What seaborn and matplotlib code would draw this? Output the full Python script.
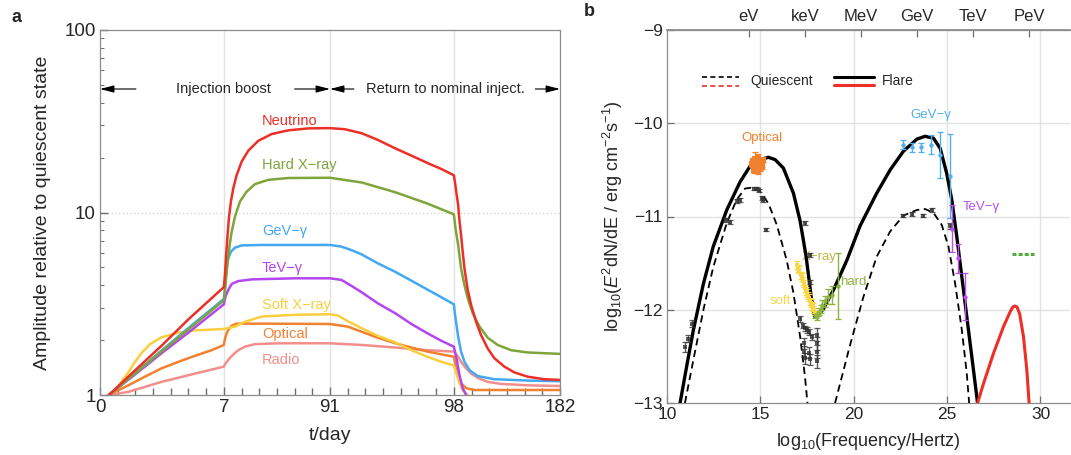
import numpy as np
import pandas as pd
import matplotlib
matplotlib.use("Agg")
import matplotlib.pyplot as plt
import seaborn as sns

sns.set_theme(style="ticks")
plt.rcParams['font.family'] = ['Liberation Sans', 'DejaVu Sans']
plt.rcParams['mathtext.fontset'] = 'custom'
plt.rcParams['mathtext.rm'] = 'Liberation Sans'
plt.rcParams['mathtext.it'] = 'Liberation Sans:italic'
plt.rcParams['mathtext.default'] = 'regular'

# ---------------- panel a: light curves (amplitude vs time) ----------------
neutrino_t = [0.5, 2, 3.5, 5, 7, 7.87, 8.66, 9.72, 11.0, 12.6, 14.5, 17.1, 21.1, 26.3, 34.2, 44.8, 58.0,
              73.8, 91, 91.84, 92.78, 93.7, 94.67, 95.6, 96.55, 97.3, 98,
              98.8, 100.1, 101.4, 102.4, 103.7, 105.0, 106.4, 109.0, 111.7, 115.6, 119.5, 124.8,
              130.1, 138, 145.9, 156.4, 169.6, 182]
neutrino_a = [1.0, 1.37, 1.87, 2.6, 3.9, 4.55, 5.61, 7.2, 9.3, 11.5, 13.6, 16.0, 19.0, 21.8, 24.7, 26.9, 28.2,
              28.9, 29.0, 28.6, 27.2, 25.0, 22.5, 20.5, 18.6, 17.3, 16.0,
              14.8, 12.7, 11.0, 9.1, 7.53, 6.1, 4.94, 3.76, 3.11, 2.52, 2.13, 1.80,
              1.59, 1.43, 1.33, 1.26, 1.22, 1.21]

hardx_t = [0.5, 2, 3.5, 5, 7, 7.87, 8.9, 9.98, 11.6, 13.2, 15.8, 19.8, 25.0, 31.6, 42.1, 58.0, 91,
           92.8, 94.7, 96.5, 98, 99.3, 101.4, 103.7, 106.4, 109.0, 113.0, 118.3, 124.8, 132.7,
           143.3, 156.4, 182]
hardx_a = [1.0, 1.32, 1.74, 2.29, 3.3, 3.68, 4.45, 5.38, 6.64, 7.85, 9.5, 11.5, 13.0, 14.3, 15.1, 15.45, 15.5,
           14.6, 12.9, 11.2, 9.77, 8.2, 6.64, 4.94, 4.0, 3.39, 2.80, 2.37, 2.06, 1.88,
           1.76, 1.71, 1.68]

gev_t = [0.5, 2, 3.5, 5, 7, 7.87, 8.9, 10.5, 12.6, 15.8, 21.1, 36.9, 91, 91.65, 92.2, 92.78, 93.7,
         94.67, 95.6, 96.55, 97.3, 98, 98.8, 100.1, 101.4, 103.7, 106.4, 110.3, 116.9, 130.1, 156.4, 182]
gev_a = [1.0, 1.32, 1.76, 2.33, 3.36, 3.84, 4.74, 5.6, 6.1, 6.42, 6.6, 6.64, 6.64, 6.5, 6.23, 5.9, 5.27,
         4.74, 4.23, 3.76, 3.43, 3.14, 2.8, 2.42, 2.09, 1.73, 1.52, 1.37, 1.27, 1.22, 1.2, 1.19]

tev_t = [0.5, 2, 3.5, 5, 7, 8.3, 10.5, 13.2, 18.4, 29.0, 63.3, 91, 91.65, 92.2, 92.8, 93.7, 94.7,
         95.6, 96.5, 97.3, 98, 100.1, 102.4, 105.0, 107.7, 110.3]
tev_a = [1.0, 1.3, 1.7, 2.2, 3.14, 3.46, 3.76, 4.06, 4.21, 4.30, 4.36, 4.36, 4.27, 3.97, 3.65, 3.18, 2.80,
         2.45, 2.18, 1.98, 1.84, 1.59, 1.29, 1.09, 1.0, 0.81]

softx_t = [0.47, 0.75, 1.04, 1.32, 1.6, 1.98, 2.35, 2.83, 3.48, 4.43, 5.37, 7, 15.8, 23.7, 36.9, 63.3,
           91, 91.47, 92.0, 92.8, 93.7, 94.7, 95.6, 96.5, 97.3, 98, 100.1, 102.4, 105.0, 109.0, 117.0]
softx_a = [1.0, 1.04, 1.12, 1.22, 1.33, 1.52, 1.70, 1.90, 2.07, 2.20, 2.26, 2.30, 2.37, 2.52, 2.69, 2.75,
           2.77, 2.72, 2.54, 2.32, 2.11, 1.94, 1.76, 1.62, 1.52, 1.45, 1.31, 1.16, 1.06, 1.0, 0.86]

optical_t = [0.5, 1.6, 2.54, 3.48, 4.43, 5.37, 6.31, 7, 7.87, 9.2, 10.5, 13.2, 17.1, 36.9, 91, 92.0, 92.8,
             93.7, 94.7, 95.6, 96.5, 97.3, 98, 99.3, 101.4, 103.7, 107.7, 114.3, 143.6, 182]
optical_a = [1.0, 1.13, 1.26, 1.40, 1.52, 1.64, 1.76, 1.88, 2.03, 2.18, 2.27, 2.40, 2.46, 2.46, 2.45, 2.37, 2.22,
             2.06, 1.92, 1.82, 1.73, 1.67, 1.62, 1.46, 1.29, 1.16, 1.09, 1.065, 1.065, 1.065]

radio_t = [0.5, 1.6, 3.48, 5.37, 7, 7.87, 10.5, 14.5, 18.4, 23.7, 31.6, 50.1, 91, 92.8, 94.7, 96.5, 98,
           101.4, 103.7, 107.7, 111.7, 117.0, 124.8, 135.4, 156.4, 182]
radio_a = [1.0, 1.04, 1.18, 1.31, 1.43, 1.47, 1.56, 1.67, 1.76, 1.84, 1.90, 1.92, 1.92, 1.88, 1.82, 1.76, 1.73,
           1.62, 1.52, 1.40, 1.31, 1.24, 1.18, 1.15, 1.13, 1.12]

bands = ["Radio", "Optical", "Soft X\u2212ray", "TeV\u2212\u03b3", "GeV\u2212\u03b3", "Hard X\u2212ray", "Neutrino"]
band_series = [(radio_t, radio_a), (optical_t, optical_a), (softx_t, softx_a), (tev_t, tev_a),
               (gev_t, gev_a), (hardx_t, hardx_a), (neutrino_t, neutrino_a)]
band_colors = ["#F28E8C", "#F2812F", "#F9CF3F", "#B445F0", "#43A8F4", "#7DA53A", "#EC2F27"]
# label anchor (day, amplitude) for each band name
label_t = [37, 37, 37, 37, 37, 37, 37]
label_a = [1.56, 2.15, 3.11, 4.99, 7.92, 18.2, 31.8]

time_ticks = [0, 7, 91, 98, 182]
time_minor = list(range(0, 8)) + list(range(21, 92, 14)) + list(range(92, 99)) + list(range(112, 183, 14))

# ---------------- panel b: spectral energy distribution ----------------
flare_x = [10.70, 11.05, 11.41, 11.95, 12.48, 13.20, 13.91, 14.45, 14.98, 15.43, 15.79, 16.23, 16.77,
           17.13, 17.45, 17.72, 17.90, 18.08, 18.38, 18.91, 19.63, 20.34, 21.23, 21.95, 22.66, 23.38,
           23.82, 24.27, 24.63, 24.98, 25.25, 25.52, 25.79, 26.05, 26.32, 26.63]
flare_y = [-13.0, -12.61, -12.22, -11.72, -11.32, -10.93, -10.63, -10.46, -10.39, -10.365, -10.39, -10.48,
           -10.75, -11.05, -11.43, -11.86, -12.07, -12.06, -11.99, -11.79, -11.47, -11.10, -10.75, -10.50,
           -10.30, -10.17, -10.14, -10.16, -10.27, -10.54, -10.82, -11.22, -11.65, -12.07, -12.50, -13.0]

quiet_x = [10.96, 11.41, 11.95, 12.48, 13.20, 13.73, 14.18, 14.54, 14.98, 15.43, 15.88, 16.41, 16.77,
           17.13, 17.39, 17.52,
           19.0, 19.80, 20.52, 21.23, 21.95, 22.66, 23.38, 23.82, 24.27, 24.71, 25.07, 25.43, 25.79,
           26.05, 26.18]
quiet_y = [-13.0, -12.54, -12.0, -11.54, -11.07, -10.82, -10.70, -10.69, -10.73, -10.86, -11.09, -11.47,
           -11.82, -12.29, -12.72, -13.0,
           -13.0, -12.38, -11.86, -11.43, -11.16, -10.99, -10.93, -10.92, -10.96, -11.09, -11.32, -11.72,
           -12.22, -12.68, -13.0]
quiet_part = ["sync"] * 16 + ["ic"] * 15

nu_x = [26.63, 26.95, 27.48, 28.02, 28.38, 28.52, 28.62, 28.74, 28.88, 29.09, 29.27, 29.39]
nu_y = [-13.0, -12.79, -12.47, -12.18, -12.02, -11.97, -11.96, -11.97, -12.04, -12.29, -12.65, -13.0]

nu_limit_x = [28.45, 29.65]
nu_limit_y = [-11.40, -11.40]

quiet_pts_x = [10.96, 11.14, 11.32, 13.14, 13.38, 13.77, 13.91, 14.68, 14.80, 14.93, 15.07, 15.16, 15.30,
               17.39, 17.66, 17.66, 17.12, 17.30, 17.40, 17.50, 17.60, 17.75, 17.33, 17.36, 17.40, 17.62,
               17.66, 18.02, 18.04, 18.05, 18.04, 22.66, 23.11, 23.70, 24.21, 25.16]
quiet_pts_y = [-12.40, -12.31, -12.15, -11.04, -11.06, -10.83, -10.82, -10.70, -10.70, -10.72, -10.80, -10.82,
               -11.14, -11.07, -11.41, -11.70, -12.10, -12.17, -12.20, -12.22, -12.24, -12.29, -12.36, -12.45,
               -12.52, -12.46, -12.53, -12.27, -12.36, -12.45, -12.55, -10.99, -10.97, -10.99, -10.93, -11.10]
quiet_pts_err = [0.05, 0.04, 0.04, 0.02, 0.02, 0.02, 0.02, 0.02, 0.02, 0.02, 0.02, 0.02,
                 0.02, 0.02, 0.02, 0.02, 0.03, 0.03, 0.03, 0.03, 0.03, 0.03, 0.06, 0.06,
                 0.06, 0.06, 0.06, 0.07, 0.07, 0.07, 0.07, 0.02, 0.02, 0.02, 0.02, 0.03]

optical_x = [14.55, 14.62, 14.70, 14.75, 14.80, 14.85, 14.90, 14.95, 15.00, 15.05, 15.10, 15.15,
             14.68, 14.78, 14.88, 14.98, 15.08]
optical_y = [-10.44, -10.40, -10.38, -10.46, -10.42, -10.36, -10.44, -10.40, -10.47, -10.41, -10.44, -10.39,
             -10.50, -10.49, -10.51, -10.48, -10.46]
optical_err = [0.03, 0.03, 0.07, 0.03, 0.03, 0.03, 0.03, 0.03, 0.03, 0.03, 0.03, 0.03,
               0.03, 0.03, 0.03, 0.03, 0.03]

soft_x = [16.98, 17.03, 17.09, 17.15, 17.21, 17.27, 17.34, 17.40, 17.43, 17.50, 17.54, 17.60, 17.66,
          17.71, 17.75, 17.80, 17.84, 17.90]
soft_y = [-11.52, -11.56, -11.57, -11.63, -11.65, -11.69, -11.72, -11.77, -11.80, -11.82, -11.85, -11.87,
          -11.91, -11.93, -11.96, -11.97, -12.00, -12.02]
soft_err = [0.04] * 18

hard_x = [17.95, 18.02, 18.10, 18.16, 18.24, 18.32, 18.46, 18.64, 18.82, 19.14]
hard_y = [-12.06, -12.08, -12.04, -12.02, -11.99, -11.95, -11.91, -11.86, -11.84, -11.745]
hard_err = [0.03, 0.03, 0.03, 0.04, 0.04, 0.05, 0.06, 0.08, 0.10, 0.355]

gev_x = [22.63, 23.11, 23.61, 24.14, 24.63, 25.13]
gev_y = [-10.23, -10.26, -10.26, -10.23, -10.34, -10.57]
gev_err = [0.05, 0.05, 0.05, 0.10, 0.25, 0.45]

tev_x = [25.27, 25.59, 25.97]
tev_y = [-11.13, -11.45, -11.86]
tev_err = [0.25, 0.16, 0.25]

energy_pos = [14.38, 17.38, 20.38, 23.38, 26.38, 29.38]
energy_labels = ["eV", "keV", "MeV", "GeV", "TeV", "PeV"]

# ---------------- figure ----------------
fig = plt.figure(figsize=(10.71, 4.55), dpi=100)
ax = fig.add_axes([100 / 1071, 1 - 395 / 455, 460 / 1071, 365 / 455])
bx = fig.add_axes([667 / 1071, 1 - 403 / 455, 403 / 1071, 373 / 455])

spine_col = "#8c8c8c"
tick_col = "#6e6e6e"
grid_col = "#e3e3e3"

# piecewise time axis: days 0-7 and 91-98 at one day per unit, the long stretches compressed
T_BREAKS = [0, 7, 91, 98, 182]
U_BREAKS = [0, 7, 13, 20, 26]


def t_to_u(t):
    return np.interp(t, T_BREAKS, U_BREAKS)


def u_to_t(u):
    return np.interp(u, U_BREAKS, T_BREAKS)


rows = []
for name, (tt, aa) in zip(bands, band_series):
    for t, a in zip(tt, aa):
        rows.append({"band": name, "t": t, "amp": a})
df_a = pd.DataFrame(rows)

ax.set_xscale("function", functions=(t_to_u, u_to_t))
ax.set_yscale("log")
ax.set_xlim(0, 182)
ax.set_ylim(1, 100)

for xv in [7, 91, 98]:
    ax.axvline(xv, color=grid_col, lw=1.0, zorder=0)
ax.axhline(10, color="#d0d0d0", lw=0.9, ls=(0, (1, 2)), zorder=0)

sns.lineplot(data=df_a, x="t", y="amp", hue="band", hue_order=bands,
             palette=dict(zip(bands, band_colors)), estimator=None, sort=False,
             lw=1.8, legend=False, ax=ax)
for ln in ax.get_lines():
    ln.set_solid_joinstyle("round")

for name, col, lt, la in zip(bands, band_colors, label_t, label_a):
    ax.text(lt, la, name, color=col, fontsize=10.5, ha="left", va="center")

# phase annotations
arr = dict(arrowstyle="-|>,head_length=0.7,head_width=0.18", color="black", lw=0.8,
           shrinkA=0, shrinkB=0)
ya = 47.5
ax.annotate("", xy=(0, ya), xytext=(2.03, ya), arrowprops=arr)
ax.annotate("", xy=(91, ya), xytext=(63, ya), arrowprops=arr)
ax.annotate("", xy=(91, ya), xytext=(92.35, ya), arrowprops=arr)
ax.annotate("", xy=(182, ya), xytext=(162.5, ya), arrowprops=arr)
ax.text(7, ya, "Injection boost", fontsize=10.5, ha="center", va="center")
ax.text(97.5, ya, "Return to nominal inject.", fontsize=10.5, ha="center", va="center")

ax.set_xticks(time_ticks)
ax.set_xticklabels([str(v) for v in time_ticks])
ax.set_xticks(time_minor, minor=True)
ax.set_yticks([1, 10, 100])
ax.set_yticklabels(["1", "10", "100"])
ax.tick_params(axis="both", which="major", direction="in", length=6, width=1.0, color=tick_col,
               labelsize=13.5, pad=3)
ax.tick_params(axis="x", which="minor", bottom=True, direction="in", length=5, width=1.0, color=tick_col)
ax.tick_params(axis="y", which="minor", left=True, direction="in", length=3, width=0.7, color=tick_col)
ax.set_xlabel("t/day", fontsize=14, labelpad=8)
ax.set_ylabel("Amplitude relative to quiescent state", fontsize=14, labelpad=10)
for s in ax.spines.values():
    s.set_color(spine_col)
    s.set_linewidth(0.9)

# ---------------- panel b ----------------
bx.set_xlim(10, 31.58)
bx.set_ylim(-13, -9)
for xv in [15, 20, 25, 30]:
    bx.axvline(xv, color=grid_col, lw=1.0, zorder=0)
for yv in [-10, -11, -12]:
    bx.axhline(yv, color=grid_col, lw=1.0, zorder=0)

df_flare = pd.DataFrame({"x": flare_x, "y": flare_y})
df_quiet = pd.DataFrame({"x": quiet_x, "y": quiet_y, "part": quiet_part})
df_nu = pd.DataFrame({"x": nu_x, "y": nu_y})

sns.lineplot(data=df_quiet, x="x", y="y", units="part", estimator=None, sort=False, color="black",
             lw=1.3, linestyle=(0, (4, 2.5)), ax=bx, zorder=3)
sns.lineplot(data=df_flare, x="x", y="y", estimator=None, sort=False, color="black", lw=2.4, ax=bx, zorder=4)
sns.lineplot(data=df_nu, x="x", y="y", estimator=None, sort=False, color="#EC2F27", lw=2.2, ax=bx, zorder=4)
bx.plot(nu_limit_x, nu_limit_y, color="#4DAF3A", lw=2.2, ls=(0, (1.3, 0.7)), zorder=4)
for ln in bx.get_lines():
    ln.set_solid_joinstyle("round")


def points(x, y, err, col, marker, ms, alpha=1.0):
    bx.errorbar(x, y, yerr=err, fmt="none", ecolor=col, elinewidth=1.0, capsize=2, capthick=0.9,
                alpha=alpha, zorder=5)
    sns.scatterplot(x=x, y=y, color=col, marker=marker, s=ms, linewidth=0, alpha=alpha, ax=bx, zorder=6)


points(quiet_pts_x, quiet_pts_y, quiet_pts_err, "#333333", "s", 12, 0.8)
points(optical_x, optical_y, optical_err, "#F2812F", "s", 14)
points(soft_x, soft_y, soft_err, "#F9D648", "s", 11)
points(hard_x, hard_y, hard_err, "#8DB43E", "o", 10)
points(gev_x, gev_y, gev_err, "#52AEEF", "o", 10)
points(tev_x, tev_y, tev_err, "#B94FEF", "o", 10)

bx.text(15.09, -10.16, "Optical", color="#F2812F", fontsize=9.5, ha="center", va="center")
bx.text(24.14, -9.91, "GeV\u2212\u03b3", color="#52AEEF", fontsize=9.5, ha="center", va="center")
bx.text(25.85, -10.90, "TeV\u2212\u03b3", color="#B94FEF", fontsize=9.5, ha="left", va="center")
bx.text(17.23, -11.43, "X\u2212ray", color="#BDB843", fontsize=9.5, ha="left", va="center")
bx.text(19.25, -11.70, "hard", color="#8DB43E", fontsize=9.5, ha="left", va="center")
bx.text(16.64, -11.91, "soft", color="#F9D648", fontsize=9.5, ha="right", va="center")

# legend glyphs
tr = bx.transAxes
bx.plot([0.087, 0.179], [0.874, 0.874], color="black", lw=1.2, ls=(0, (3, 2)), transform=tr)
bx.plot([0.087, 0.179], [0.850, 0.850], color="#EC2F27", lw=1.2, ls=(0, (3, 2)), transform=tr)
bx.text(0.208, 0.862, "Quiescent", fontsize=10, ha="left", va="center", transform=tr)
bx.plot([0.414, 0.514], [0.874, 0.874], color="black", lw=2.2, transform=tr)
bx.plot([0.414, 0.514], [0.852, 0.852], color="#EC2F27", lw=2.2, transform=tr)
bx.text(0.533, 0.862, "Flare", fontsize=10, ha="left", va="center", transform=tr)

bx.set_xticks([10, 15, 20, 25, 30])
bx.set_yticks([-13, -12, -11, -10, -9])
bx.tick_params(axis="both", which="major", direction="in", length=5, width=0.9, color=tick_col,
               labelsize=12.5, pad=3)
bx.set_xlabel(r"log$_{10}$(Frequency/Hertz)", fontsize=13, labelpad=6)
bx.set_ylabel(r"log$_{10}$($\mathit{E}^{2}$dN/dE / erg cm$^{-2}$s$^{-1}$)", fontsize=13, labelpad=6)

top = bx.secondary_xaxis("top")
top.set_xticks(energy_pos)
top.set_xticklabels(energy_labels)
top.tick_params(direction="in", length=5, width=0.9, color=tick_col, labelsize=12, pad=4)
top.spines["top"].set_color(spine_col)
for name, s in bx.spines.items():
    s.set_color(spine_col)
    s.set_linewidth(0.9)
bx.spines["right"].set_visible(False)

fig.text(12 / 1071, 1 - 18 / 455, "a", fontsize=13, fontweight="bold", ha="left", va="center")
fig.text(584 / 1071, 1 - 12 / 455, "b", fontsize=13, fontweight="bold", ha="left", va="center")

fig.savefig("out.png", dpi=100)
